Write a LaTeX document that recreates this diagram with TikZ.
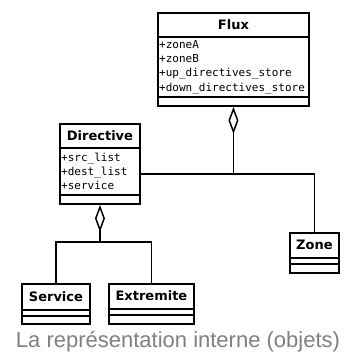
\documentclass[tikz,border=0pt]{standalone}
\usepackage{fontspec}
\usetikzlibrary{calc,arrows.meta}
\newfontfamily\titlefont{DejaVu Sans}
\newfontfamily\attfont{DejaVu Sans Mono}
\newfontfamily\capfont{Liberation Sans}
\definecolor{capgray}{RGB}{128,128,128}
\begin{document}
\begin{tikzpicture}[x=1pt,y=-1pt,
  cls/.style={draw, line width=1.9pt, inner sep=0pt, anchor=north west, fill=white},
  sepline/.style={line width=1.4pt},
  ttl/.style={font=\titlefont\bfseries\fontsize{13}{15}\selectfont, inner sep=0pt},
  att/.style={font=\attfont\fontsize{11}{14.3}\selectfont, align=left, inner sep=0pt, anchor=west},
  conn/.style={line width=1.5pt},
  agg/.style={conn, -{Diamond[open, length=27pt, width=10pt, line width=1.5pt]}}
]
\useasboundingbox (0,0) rectangle (346,354);

% Flux
\node[cls, minimum width=151pt, minimum height=93pt] (flux) at (157,12) {};
\draw[sepline] ($(flux.north west)+(0,25)$) -- ($(flux.north east)+(0,25)$);
\draw[sepline] ($(flux.north west)+(0,85)$) -- ($(flux.north east)+(0,85)$);
\node[ttl] (fluxt) at ($(flux.north)+(0,13)$) {Flux};
\node[att] (fluxa) at ($(flux.north west)+(2,55)$) {+zoneA\\+zoneB\\+up\_directives\_store\\+down\_directives\_store};

% Directive
\node[cls, minimum width=80pt, minimum height=80pt] (directive) at (59,123) {};
\draw[sepline] ($(directive.north west)+(0,25)$) -- ($(directive.north east)+(0,25)$);
\draw[sepline] ($(directive.north west)+(0,72)$) -- ($(directive.north east)+(0,72)$);
\node[ttl] (directivet) at ($(directive.north)+(0,13)$) {Directive};
\node[att] (directivea) at ($(directive.north west)+(2,48.5)$) {+src\_list\\+dest\_list\\+service};

% Service
\node[cls, minimum width=68pt, minimum height=40pt] (service) at (21,283) {};
\draw[sepline] ($(service.north west)+(0,27)$) -- ($(service.north east)+(0,27)$);
\draw[sepline] ($(service.north west)+(0,33)$) -- ($(service.north east)+(0,33)$);
\node[ttl] (servicet) at ($(service.north)+(0,14)$) {Service};

% Extremite
\node[cls, minimum width=85pt, minimum height=40pt] (extremite) at (108,283) {};
\draw[sepline] ($(extremite.north west)+(0,26)$) -- ($(extremite.north east)+(0,26)$);
\draw[sepline] ($(extremite.north west)+(0,32)$) -- ($(extremite.north east)+(0,32)$);
\node[ttl] (extremitet) at ($(extremite.north)+(0,13)$) {Extremite};

% Zone
\node[cls, minimum width=49pt, minimum height=40pt] (zone) at (289,232) {};
\draw[sepline] ($(zone.north west)+(0,26)$) -- ($(zone.north east)+(0,26)$);
\draw[sepline] ($(zone.north west)+(0,32)$) -- ($(zone.north east)+(0,32)$);
\node[ttl] (zonet) at ($(zone.north)+(0,13)$) {Zone};

% connectors
\coordinate (j1) at ($(flux.south)+(0,67)$);
\coordinate (dr) at (directive.east |- j1);
\draw[conn] (dr) -- (j1);
\draw[conn] (zone.north) |- (j1);
\draw[agg] (j1) -- (flux.south);

\coordinate (j2) at ($(directive.south)+(0,37)$);
\draw[conn] (service.north) |- (j2);
\draw[conn] (extremite.north) |- (j2);
\draw[agg] (j2) -- (directive.south);

% caption
\node[font=\capfont\fontsize{22}{26}\selectfont, text=capgray, anchor=base, inner sep=0pt] (cap) at (178,347.5) {La représentation interne (objets)};
\end{tikzpicture}
\end{document}
